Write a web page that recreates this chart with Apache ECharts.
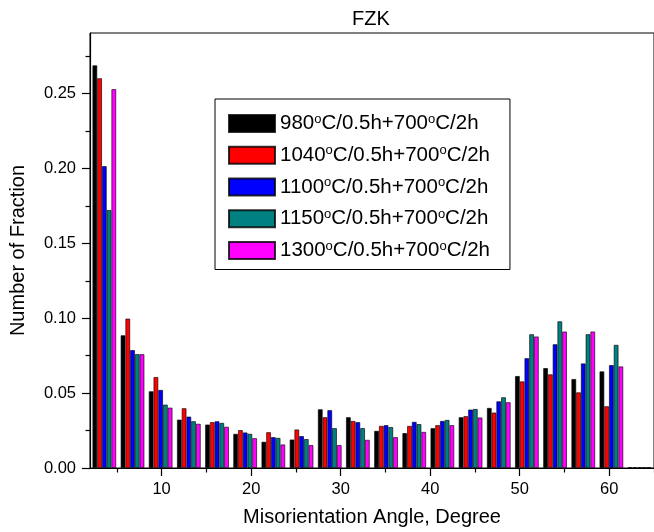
<!DOCTYPE html>
<html><head><meta charset="utf-8">
<script src="https://cdn.jsdelivr.net/npm/echarts@6/dist/echarts.min.js"></script>
<style>html,body{margin:0;padding:0;background:#fff}#c{width:654px;height:532px}</style>
</head><body><div id="c"></div>
<script>
// Bin centres (degrees)
const angles = [3.60, 6.75, 9.89, 13.04, 16.19, 19.33, 22.48, 25.63, 28.78, 31.92,
                35.07, 38.22, 41.36, 44.51, 47.66, 50.80, 53.95, 57.10, 60.24, 63.39];
const seriesNames = ['980°C/0.5h+700°C/2h', '1040°C/0.5h+700°C/2h', '1100°C/0.5h+700°C/2h',
                     '1150°C/0.5h+700°C/2h', '1300°C/0.5h+700°C/2h'];
const v980  = [0.2688, 0.0886, 0.0512, 0.0323, 0.0290, 0.0228, 0.0175, 0.0190, 0.0392, 0.0339,
               0.0248, 0.0233, 0.0266, 0.0339, 0.0401, 0.0614, 0.0667, 0.0594, 0.0645, 0.0005];
const v1040 = [0.2602, 0.0997, 0.0607, 0.0399, 0.0306, 0.0253, 0.0239, 0.0257, 0.0339, 0.0314,
               0.0281, 0.0281, 0.0286, 0.0346, 0.0370, 0.0578, 0.0625, 0.0505, 0.0412, 0.0005];
const v1100 = [0.2015, 0.0787, 0.0521, 0.0343, 0.0312, 0.0237, 0.0206, 0.0213, 0.0386, 0.0306,
               0.0286, 0.0308, 0.0314, 0.0390, 0.0445, 0.0733, 0.0826, 0.0698, 0.0687, 0.0005];
const v1150 = [0.1722, 0.0760, 0.0423, 0.0312, 0.0301, 0.0228, 0.0201, 0.0193, 0.0266, 0.0266,
               0.0273, 0.0293, 0.0321, 0.0394, 0.0472, 0.0893, 0.0979, 0.0893, 0.0822, 0.0005];
const v1300 = [0.2529, 0.0760, 0.0403, 0.0295, 0.0275, 0.0199, 0.0157, 0.0153, 0.0153, 0.0188,
               0.0206, 0.0241, 0.0286, 0.0337, 0.0439, 0.0878, 0.0911, 0.0911, 0.0678, 0.0005];
const xMajorTicks = [10, 20, 30, 40, 50, 60];
const xMinorTicks = [5, 15, 25, 35, 45, 55, 65];
const yMajorTicks = [0, 0.05, 0.10, 0.15, 0.20, 0.25];
const yMinorTicks = [0.025, 0.075, 0.125, 0.175, 0.225, 0.275];

const colors = ['#000000', '#ff0000', '#0000ff', '#008080', '#ff00ff'];
const allValues = [v980, v1040, v1100, v1150, v1300];
const FONT = '"Liberation Sans", Arial, sans-serif';

const chart = echarts.init(document.getElementById('c'), null, {renderer: 'canvas'});
const series = allValues.map((vals, i) => ({
  type: 'bar',
  name: seriesNames[i],
  xAxisIndex: 0, yAxisIndex: 0,
  data: angles.map((a, j) => [a, vals[j]]),
  barWidth: 4.74,
  barGap: '0%',
  itemStyle: {color: colors[i], borderColor: 'rgba(0,0,0,0.8)', borderWidth: 0.8},
  emphasis: {disabled: true},
  animation: false
}));

chart.setOption({
  animation: false,
  title: {
    text: 'FZK', left: 371, top: 9, textAlign: 'center', padding: 0,
    textStyle: {fontFamily: FONT, fontSize: 20, fontWeight: 'normal', color: '#000'}
  },
  grid: {left: 87, top: 33, width: 569.5, height: 437, show: true, borderColor: '#000', borderWidth: 1, backgroundColor: 'transparent'},
  legend: {
    orient: 'vertical', left: 215, top: 99,
    padding: [13.5, 20, 8.5, 13],
    itemWidth: 46, itemHeight: 17, itemGap: 10.25,
    icon: 'rect',
    borderColor: '#000', borderWidth: 1,
    formatter: name => name.split('°').map(p => '{n|' + p + '}').join('{s|o}'),
    textStyle: {
      fontFamily: FONT, fontSize: 20.5, color: '#000',
      rich: {
        n: {fontFamily: FONT, fontSize: 20.5, color: '#000', lineHeight: 22},
        s: {fontFamily: FONT, fontSize: 13, color: '#000', verticalAlign: 'top', lineHeight: 12}
      }
    },
    data: seriesNames
  },
  xAxis: [
    {
      type: 'value', min: 2, max: 65, position: 'bottom',
      name: 'Misorientation Angle, Degree', nameLocation: 'middle', nameGap: 39,
      nameTextStyle: {fontFamily: FONT, fontSize: 20, color: '#000'},
      axisLine: {show: true, lineStyle: {color: '#000', width: 1.2}},
      axisTick: {show: true, inside: false, length: 8, customValues: xMajorTicks, lineStyle: {color: '#000', width: 1.2}},
      axisLabel: {show: true, customValues: xMajorTicks, margin: 13, fontFamily: FONT, fontSize: 16.5, color: '#000'},
      splitLine: {show: false}
    },
    {
      type: 'value', min: 2, max: 65, position: 'bottom',
      axisLine: {show: false},
      axisTick: {show: true, length: 4.5, customValues: xMinorTicks, lineStyle: {color: '#000', width: 1.2}},
      axisLabel: {show: false},
      splitLine: {show: false}
    }
  ],
  yAxis: [
    {
      type: 'value', min: 0, max: 0.2904, position: 'left',
      name: 'Number of Fraction', nameLocation: 'middle', nameGap: 62,
      nameTextStyle: {fontFamily: FONT, fontSize: 20, color: '#000'},
      axisLine: {show: true, lineStyle: {color: '#000', width: 1.2}},
      axisTick: {show: true, length: 8, customValues: yMajorTicks, lineStyle: {color: '#000', width: 1.2}},
      axisLabel: {show: true, customValues: yMajorTicks, margin: 14, fontFamily: FONT, fontSize: 16.5, color: '#000',
                  formatter: v => v.toFixed(2)},
      splitLine: {show: false}
    },
    {
      type: 'value', min: 0, max: 0.2904, position: 'left',
      axisLine: {show: false},
      axisTick: {show: true, length: 4.5, customValues: yMinorTicks, lineStyle: {color: '#000', width: 1.2}},
      axisLabel: {show: false},
      splitLine: {show: false}
    }
  ],
  series: series
});
</script>
</body></html>
